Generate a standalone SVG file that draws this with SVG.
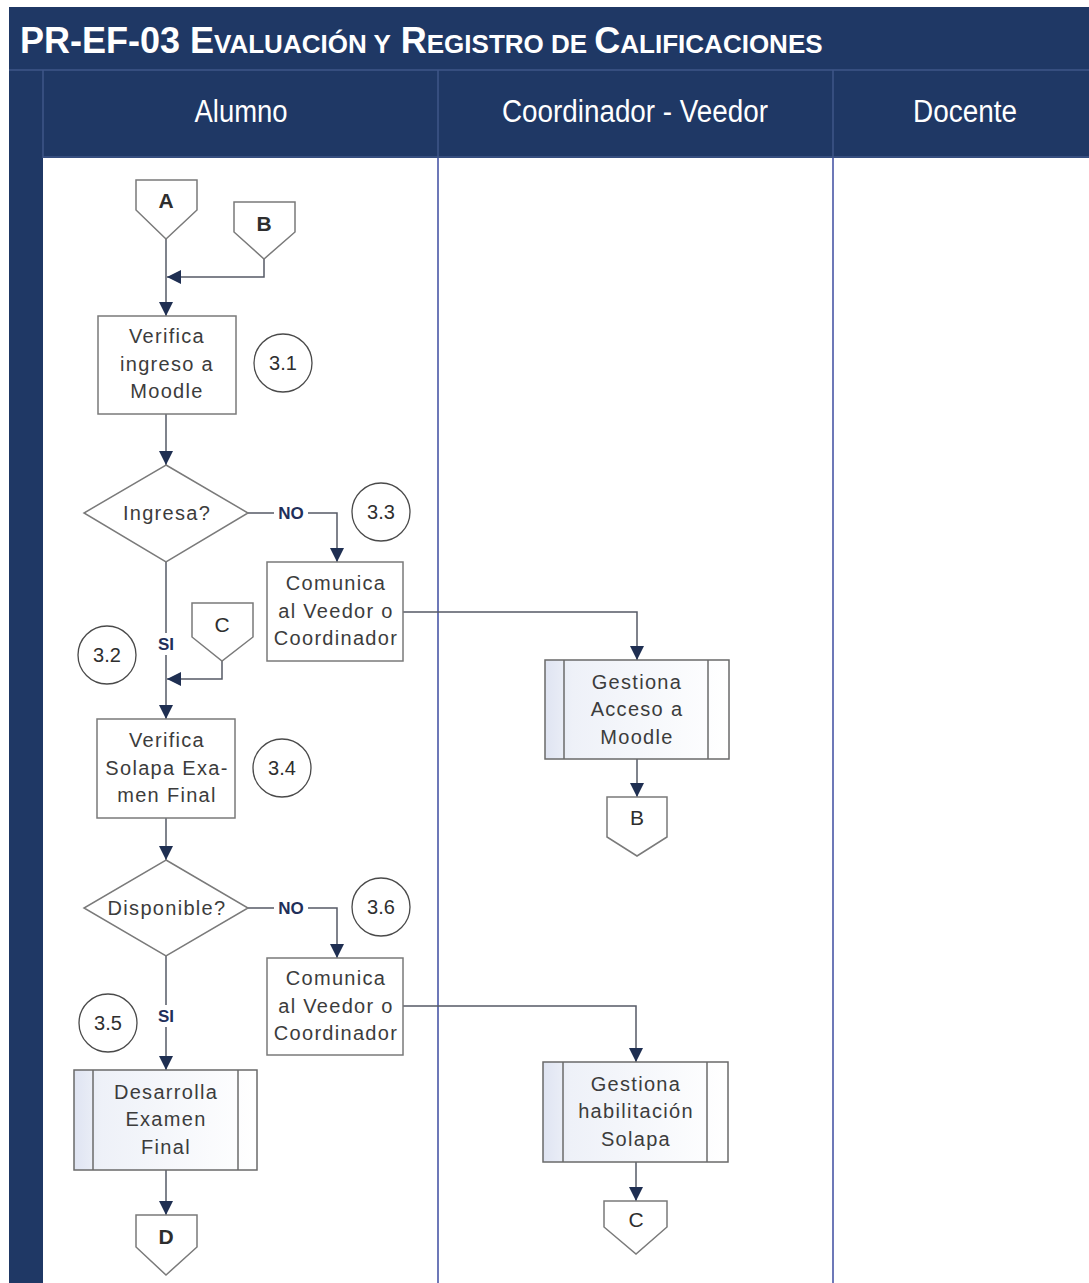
<svg xmlns="http://www.w3.org/2000/svg" width="1089" height="1283" viewBox="0 0 1089 1283">
<style>
.navy{fill:#1f3865}
.sep{stroke:#3f5688;stroke-width:1.5;fill:none}
.lane{stroke:#6d78b8;stroke-width:2;fill:none}
.box{fill:#ffffff;stroke:#7a7a7a;stroke-width:1.5}
.sub{fill:url(#subg);stroke:#6a6a6a;stroke-width:1.5}
.subline{stroke:#6a6a6a;stroke-width:1.5}
.dia{fill:#ffffff;stroke:#7a7a7a;stroke-width:1.5}
.off{fill:#ffffff;stroke:#7a7a7a;stroke-width:1.5}
.num{fill:#ffffff;stroke:#4a4a4a;stroke-width:1.3}
.t{font-family:"Liberation Sans",Arial,sans-serif;font-size:20px;fill:#3c3c3c;text-anchor:middle;letter-spacing:1.3px}
.tl{font-family:"Liberation Sans",Arial,sans-serif;font-size:21px;fill:#2e2e2e;text-anchor:middle;font-weight:bold}
.tc{font-family:"Liberation Sans",Arial,sans-serif;font-size:20px;fill:#2e2e2e;text-anchor:middle}
.tk{font-family:"Liberation Sans",Arial,sans-serif;font-size:21px;fill:#2e2e2e;text-anchor:middle}
.lbl{font-family:"Liberation Sans",Arial,sans-serif;font-size:17px;fill:#1f2f5a;text-anchor:middle;font-weight:bold}
.hd{font-family:"Liberation Sans",Arial,sans-serif;font-size:31px;fill:#ffffff;text-anchor:middle}
.title{font-family:"Liberation Sans",Arial,sans-serif;font-weight:bold;fill:#ffffff}
.ln{fill:none;stroke:#555a66;stroke-width:1.5;marker-end:url(#arr)}
</style>
<defs>
<marker id="arr" markerUnits="userSpaceOnUse" markerWidth="14" markerHeight="14" refX="14" refY="7" orient="auto">
<path d="M0,0 L14,7 L0,14 z" fill="#1f2f52"/>
</marker>
<linearGradient id="subg" x1="0" y1="0" x2="1" y2="0">
<stop offset="0" stop-color="#dfe4f2"/>
<stop offset="0.15" stop-color="#eef1f8"/>
<stop offset="1" stop-color="#ffffff"/>
</linearGradient>
</defs>

<g id="frame">
<rect x="0" y="0" width="1089" height="1283" fill="#ffffff"/>
<rect class="navy" x="9" y="7" width="1080" height="151"/>
<rect class="navy" x="9" y="7" width="34" height="1276"/>
<rect x="43" y="158" width="1046" height="1125" fill="#ffffff"/>
<line class="sep" x1="9" y1="70" x2="1089" y2="70"/>
<line class="sep" x1="43" y1="70" x2="43" y2="158"/>
<line class="sep" x1="438" y1="70" x2="438" y2="158"/>
<line class="sep" x1="833" y1="70" x2="833" y2="158"/>
<line class="sep" x1="43" y1="157" x2="1089" y2="157"/>
<line class="lane" x1="438" y1="158" x2="438" y2="1283"/>
<line class="lane" x1="833" y1="158" x2="833" y2="1283"/>
<text class="title" x="20" y="53"><tspan font-size="36">PR-EF-03 E</tspan><tspan font-size="26">VALUACIÓN Y</tspan><tspan font-size="36"> R</tspan><tspan font-size="26">EGISTRO DE </tspan><tspan font-size="36">C</tspan><tspan font-size="26">ALIFICACIONES</tspan></text>
<text class="hd" x="241" y="122" textLength="93" lengthAdjust="spacingAndGlyphs">Alumno</text>
<text class="hd" x="635" y="122" textLength="266" lengthAdjust="spacingAndGlyphs">Coordinador - Veedor</text>
<text class="hd" x="965" y="122" textLength="104" lengthAdjust="spacingAndGlyphs">Docente</text>
</g>

<g id="connectors">
<path class="ln" d="M166,239 V316"/>
<path class="ln" d="M264,259 V277 H167"/>
<path class="ln" d="M166,414 V465"/>
<path class="ln" d="M248,513 H337 V562"/>
<path class="ln" d="M403,612 H637 V660"/>
<path class="ln" d="M637,759 V797"/>
<path class="ln" d="M166,562 V719"/>
<path class="ln" d="M222,661 V679 H167"/>
<path class="ln" d="M166,818 V860"/>
<path class="ln" d="M248,908 H337 V958"/>
<path class="ln" d="M403,1006 H636 V1062"/>
<path class="ln" d="M636,1162 V1201"/>
<path class="ln" d="M166,956 V1070"/>
<path class="ln" d="M166,1170 V1215"/>
<rect x="274" y="502" width="34" height="22" fill="#ffffff"/>
<text class="lbl" x="291" y="519">NO</text>
<rect x="274" y="897" width="34" height="22" fill="#ffffff"/>
<text class="lbl" x="291" y="914">NO</text>
<rect x="154" y="633" width="24" height="22" fill="#ffffff"/>
<text class="lbl" x="166" y="650">SI</text>
<rect x="154" y="1005" width="24" height="22" fill="#ffffff"/>
<text class="lbl" x="166" y="1022">SI</text>
</g>

<g id="offA">
<path class="off" d="M136,180 H197 V210 L166,239 L136,210 Z"/>
<text class="tl" x="166" y="208">A</text>
</g>
<g id="offB1">
<path class="off" d="M234,202 H295 V232 L264,259 L234,232 Z"/>
<text class="tl" x="264" y="231">B</text>
</g>

<g id="n31">
<rect class="box" x="98" y="316" width="138" height="98"/>
<text class="t" x="167" y="343">Verifica</text>
<text class="t" x="167" y="371">ingreso a</text>
<text class="t" x="167" y="398">Moodle</text>
</g>
<g id="c31"><circle class="num" cx="283" cy="363" r="29"/><text class="tc" x="283" y="370">3.1</text></g>

<g id="d1">
<path class="dia" d="M166,465 L248,513 L166,562 L84,513 Z"/>
<text class="t" x="167" y="520">Ingresa?</text>
</g>
<g id="c33"><circle class="num" cx="381" cy="512" r="29"/><text class="tc" x="381" y="519">3.3</text></g>

<g id="n33">
<rect class="box" x="267" y="562" width="136" height="99"/>
<text class="t" x="336" y="590">Comunica</text>
<text class="t" x="336" y="618">al Veedor o</text>
<text class="t" x="336" y="645">Coordinador</text>
</g>

<g id="offC1">
<path class="off" d="M192,603 H253 V637 L222,661 L192,637 Z"/>
<text class="tk" x="222" y="632">C</text>
</g>
<g id="c32"><circle class="num" cx="107" cy="655" r="29"/><text class="tc" x="107" y="662">3.2</text></g>

<g id="g1">
<rect class="sub" x="545" y="660" width="184" height="99"/>
<line class="subline" x1="564" y1="660" x2="564" y2="759"/>
<line class="subline" x1="708" y1="660" x2="708" y2="759"/>
<text class="t" x="637" y="689">Gestiona</text>
<text class="t" x="637" y="716">Acceso a</text>
<text class="t" x="637" y="744">Moodle</text>
</g>
<g id="offB2">
<path class="off" d="M607,797 H667 V837 L637,856 L607,837 Z"/>
<text class="tk" x="637" y="825">B</text>
</g>

<g id="n34">
<rect class="box" x="97" y="719" width="138" height="99"/>
<text class="t" x="167" y="747">Verifica</text>
<text class="t" x="167" y="775">Solapa Exa-</text>
<text class="t" x="167" y="802">men Final</text>
</g>
<g id="c34"><circle class="num" cx="282" cy="768" r="29"/><text class="tc" x="282" y="775">3.4</text></g>

<g id="d2">
<path class="dia" d="M166,860 L248,908 L166,956 L84,908 Z"/>
<text class="t" x="167" y="915">Disponible?</text>
</g>
<g id="c36"><circle class="num" cx="381" cy="907" r="29"/><text class="tc" x="381" y="914">3.6</text></g>

<g id="n36">
<rect class="box" x="267" y="958" width="136" height="97"/>
<text class="t" x="336" y="985">Comunica</text>
<text class="t" x="336" y="1013">al Veedor o</text>
<text class="t" x="336" y="1040">Coordinador</text>
</g>

<g id="g2">
<rect class="sub" x="543" y="1062" width="185" height="100"/>
<line class="subline" x1="563" y1="1062" x2="563" y2="1162"/>
<line class="subline" x1="707" y1="1062" x2="707" y2="1162"/>
<text class="t" x="636" y="1091">Gestiona</text>
<text class="t" x="636" y="1118">habilitación</text>
<text class="t" x="636" y="1146">Solapa</text>
</g>
<g id="offC2">
<path class="off" d="M604,1201 H667 V1227 L636,1254 L604,1227 Z"/>
<text class="tk" x="636" y="1227">C</text>
</g>

<g id="c35"><circle class="num" cx="108" cy="1023" r="29"/><text class="tc" x="108" y="1030">3.5</text></g>
<g id="n35">
<rect class="sub" x="74" y="1070" width="183" height="100"/>
<line class="subline" x1="93" y1="1070" x2="93" y2="1170"/>
<line class="subline" x1="238" y1="1070" x2="238" y2="1170"/>
<text class="t" x="166" y="1099">Desarrolla</text>
<text class="t" x="166" y="1126">Examen</text>
<text class="t" x="166" y="1154">Final</text>
</g>
<g id="offD">
<path class="off" d="M136,1215 H197 V1247 L166,1275 L136,1247 Z"/>
<text class="tl" x="166" y="1244">D</text>
</g>
</svg>
